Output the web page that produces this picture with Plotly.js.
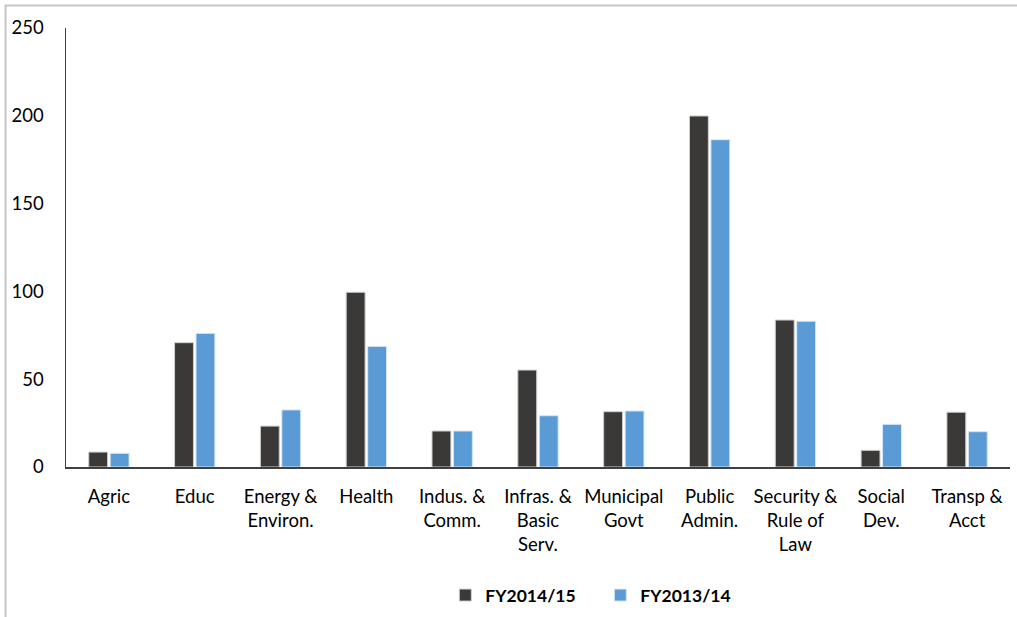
<!DOCTYPE html>
<html>
<head>
<meta charset="utf-8">
<script src="https://cdn.plot.ly/plotly-3.0.1.min.js"></script>
<style>
  html, body { margin: 0; padding: 0; background: #fff; }
  #chart { width: 1017px; height: 617px; }
</style>
</head>
<body>
<div id="chart"></div>
<script>
const categories = [
  "Agric", "Educ", "Energy &<br>Environ.", "Health", "Indus. &<br>Comm.",
  "Infras. &<br>Basic<br>Serv.", "Municipal<br>Govt", "Public<br>Admin.",
  "Security &<br>Rule of<br>Law", "Social<br>Dev.", "Transp &<br>Acct"
];
const fy2014_15 = [8.5, 70.8, 23.3, 99.5, 20.5, 55.2, 31.5, 199.9, 83.7, 9.5, 31.2];
const fy2013_14 = [7.8, 76.1, 32.5, 68.7, 20.5, 29.2, 31.9, 186.4, 83.0, 24.3, 20.1];
const yTicks = [0, 50, 100, 150, 200, 250];

const FONT = "Lato, 'Open Sans', sans-serif";

const traces = [
  {
    type: "bar", name: "FY2014/15", x: categories, y: fy2014_15,
    marker: { color: "#3a3937", line: { color: "#cfcfcf", width: 1 } }
  },
  {
    type: "bar", name: "FY2013/14", x: categories, y: fy2013_14,
    marker: { color: "#5b9bd5", line: { color: "#d6e6f5", width: 1 } }
  }
];

const layout = {
  width: 1017, height: 617,
  margin: { l: 66, r: 7, t: 28, b: 150, autoexpand: false },
  paper_bgcolor: "#ffffff", plot_bgcolor: "#ffffff",
  font: { family: FONT, size: 18.5, color: "#000000" },
  barmode: "group",
  bargap: 0.5,
  bargroupgap: 0.12,
  showlegend: true,
  legend: {
    orientation: "h", x: 0.566, xanchor: "center", y: -0.292, yanchor: "middle",
    font: { family: FONT, size: 17.5, weight: "bold", color: "#000" },
    entrywidth: 110, itemwidth: 30
  },
  xaxis: {
    type: "category", showgrid: false, zeroline: false, automargin: false,
    showline: true, linecolor: "#404040", linewidth: 1.5,
    ticks: "", ticklabelstandoff: 12,
    tickfont: { family: FONT, size: 18.5, color: "#000" }
  },
  yaxis: {
    range: [0, 250], tickvals: yTicks, ticktext: yTicks.map(String),
    showgrid: false, zeroline: false, automargin: false,
    showline: true, linecolor: "#404040", linewidth: 1.5,
    ticks: "", ticklabelstandoff: 17,
    tickfont: { family: FONT, size: 18.5, color: "#000" }
  },
  shapes: [
    { type: "line", xref: "paper", yref: "paper",
      x0: (5 - 66) / 944, x1: (1017 - 66) / 944, y0: (467 - 5.5) / 439, y1: (467 - 5.5) / 439,
      line: { color: "#c6c6c6", width: 2 } },
    { type: "line", xref: "paper", yref: "paper",
      x0: (5.5 - 66) / 944, x1: (5.5 - 66) / 944, y0: (467 - 5) / 439, y1: (467 - 617) / 439,
      line: { color: "#c6c6c6", width: 2 } }
  ]
};

Plotly.newPlot("chart", traces, layout, { displayModeBar: false, staticPlot: true });
</script>
</body>
</html>
